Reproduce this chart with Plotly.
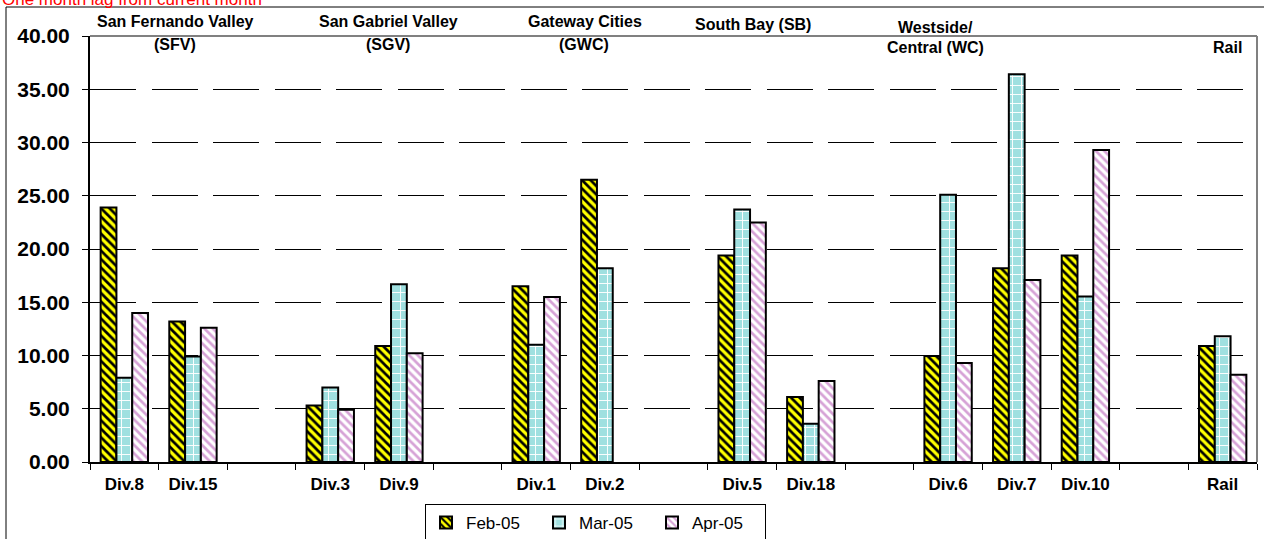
import plotly.graph_objects as go

categories = ["Div.8", "Div.15", " ", "Div.3", "Div.9", "  ", "Div.1", "Div.2", "   ",
              "Div.5", "Div.18", "    ", "Div.6", "Div.7", "Div.10", "     ", "Rail"]
feb_05 = [23.9, 13.2, None, 5.3, 10.9, None, 16.5, 26.5, None, 19.4, 6.1, None, 9.95, 18.2, 19.4, None, 10.9]
mar_05 = [7.9, 9.9, None, 7.0, 16.7, None, 11.0, 18.2, None, 23.7, 3.6, None, 25.1, 36.4, 15.55, None, 11.8]
apr_05 = [14.0, 12.6, None, 4.9, 10.2, None, 15.5, None, None, 22.5, 7.6, None, 9.3, 17.1, 29.3, None, 8.2]
series_names = ["Feb-05", "Mar-05", "Apr-05"]
y_ticks = [0, 5, 10, 15, 20, 25, 30, 35, 40]

FONT = "Arial, Liberation Sans, sans-serif"

# plot area geometry (px)
L, R, T, B = 90, 1257, 36, 462
W, H = R - L, B - T
def px(x):
    return (x - L) / W
def py(y):
    return (B - y) / H

fig = go.Figure()
styles = [
    dict(shape="\\", fgcolor="#000000", bgcolor="#FFFF00", size=6, solidity=0.45),
    dict(shape="+", fgcolor="#FFFFFF", bgcolor="#A0E0E0", size=9, solidity=0.2),
    dict(shape="\\", fgcolor="#D6A2D6", bgcolor="#FFFFFF", size=6, solidity=0.45),
]
for name, vals, st in zip(series_names, [feb_05, mar_05, apr_05], styles):
    fig.add_trace(go.Bar(
        x=categories, y=vals, name=name,
        marker=dict(color=st["bgcolor"], line=dict(color="#000000", width=2),
                    pattern=dict(shape=st["shape"], fgcolor=st["fgcolor"], bgcolor=st["bgcolor"],
                                 size=st["size"], solidity=st["solidity"], fillmode="replace")),
    ))

fig.update_layout(
    width=1264, height=539,
    margin=dict(l=L, r=1264 - R, t=T, b=539 - B, autoexpand=False),
    paper_bgcolor="white", plot_bgcolor="white",
    barmode="group", bargap=0.31, bargroupgap=0,
    font=dict(family=FONT, color="#000000"),
    showlegend=True,
    legend=dict(orientation="h", x=px(425), xanchor="left", y=py(504), yanchor="top",
                font=dict(size=17, family=FONT), bordercolor="#000000", borderwidth=1,
                bgcolor="white", itemsizing="constant", traceorder="normal",
                itemwidth=30, tracegroupgap=0, entrywidth=68, entrywidthmode="pixels"),
)
fig.update_xaxes(
    type="category", categoryorder="array", categoryarray=categories, automargin=False,
    showline=True, linecolor="#000000", linewidth=2,
    ticks="outside", tickson="boundaries", ticklen=6, tickcolor="#000000", tickwidth=1,
    tickfont=dict(size=17, family=FONT, color="#000000", weight="bold"), ticklabelstandoff=6,
    showgrid=False, zeroline=False,
)
fig.update_yaxes(
    range=[0, 40], tickvals=y_ticks, tickformat=".2f", automargin=False,
    showline=True, linecolor="#000000", linewidth=2,
    ticks="outside", ticklen=6, tickcolor="#000000", tickwidth=1,
    tickfont=dict(size=21, family=FONT, color="#000000", weight="bold"), ticklabelstandoff=8,
    showgrid=True, gridcolor="#000000", gridwidth=1, griddash="46px,15.5px",
    zeroline=False,
)

# plot-area top/right border (gray)
fig.add_shape(type="line", xref="paper", yref="paper", x0=0, x1=1, y0=1, y1=1,
              line=dict(color="#808080", width=2), layer="above")
fig.add_shape(type="line", xref="paper", yref="paper", x0=1, x1=1, y0=0, y1=1,
              line=dict(color="#808080", width=2), layer="above")
# outer chart border (clipped by window)
fig.add_shape(type="rect", xref="paper", yref="paper", x0=px(6), x1=1.2, y0=-0.5, y1=py(7),
              line=dict(color="#000000", width=1), fillcolor="rgba(0,0,0,0)", layer="above")

group_labels = [
    ("San Fernando Valley", 175, 22), ("(SFV)", 175, 45),
    ("San Gabriel Valley", 388, 22), ("(SGV)", 388, 45),
    ("Gateway Cities", 585, 22), ("(GWC)", 584, 45),
    ("South Bay (SB)", 753, 25),
    ("Westside/", 935, 27), ("Central (WC)", 935, 48),
    ("Rail", 1227, 48),
]
for text, x, y in group_labels:
    fig.add_annotation(text="<b>%s</b>" % text, xref="paper", yref="paper", x=px(x), y=py(y),
                       xanchor="center", yanchor="middle", showarrow=False,
                       font=dict(size=16, family=FONT, color="#000000"))

fig.add_annotation(text="One month lag from current month", xref="paper", yref="paper",
                   x=px(0), y=py(-0.5), xanchor="left", yanchor="middle", showarrow=False,
                   font=dict(size=17, family=FONT, color="#FF0000"))

fig.write_html("out.html", config={"displayModeBar": False},
               post_script="document.body.style.margin='0';document.body.style.overflow='hidden';")
